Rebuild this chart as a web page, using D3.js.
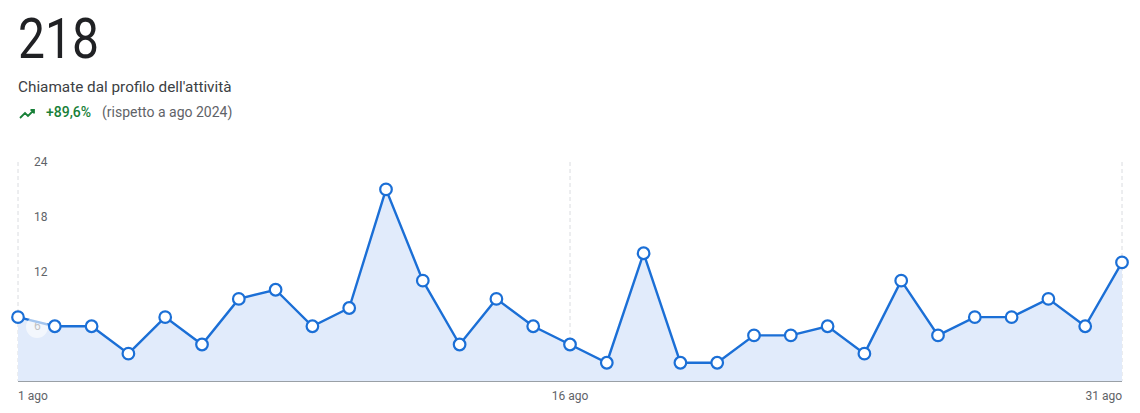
<!DOCTYPE html>
<html><head><meta charset="utf-8">
<script src="https://cdn.jsdelivr.net/npm/d3@7"></script>
<style>body{margin:0;background:#fff;font-family:Roboto,Arial,sans-serif;}</style>
</head><body><svg id="c" width="1140" height="413"></svg>
<script>
const days = d3.range(1, 32);
const values = [7,6,6,3,7,4,9,10,6,8,21,11,4,9,6,4,2,14,2,2,5,5,6,3,11,5,7,7,9,6,13];
const yTicks = [6,12,18,24];
const xTickDays = [1,16,31];
const xTickLabels = ["1 ago","16 ago","31 ago"];
const total = "218";
const title = "Chiamate dal profilo dell'attività";
const change = "+89,6%";
const comparison = "(rispetto a ago 2024)";

const svg = d3.select("#c");
const x = d3.scaleLinear().domain([1,31]).range([18,1122]);
const y = d3.scaleLinear().domain([0,24]).range([381,162]);

svg.append("text").attr("x",18).attr("y",58).attr("font-size",56).attr("fill","#202124")
  .attr("textLength",81).attr("lengthAdjust","spacingAndGlyphs").text(total);
svg.append("text").attr("x",18).attr("y",92).attr("font-size",15.3).attr("fill","#3c4043").text(title);
svg.append("path").attr("d","M20,118 l5,-5 l3,3 l6,-6 m-3.5,0 h3.5 v3.5").attr("fill","none").attr("stroke","#188038").attr("stroke-width",1.8);
svg.append("text").attr("x",46).attr("y",117).attr("font-size",14).attr("font-weight",500).attr("fill","#188038").text(change);
svg.append("text").attr("x",102).attr("y",117).attr("font-size",14).attr("fill","#5f6368").text(comparison);

// vertical dashed gridlines
svg.selectAll("line.v").data(xTickDays).enter().append("line")
  .attr("x1",d=>x(d)).attr("x2",d=>x(d)).attr("y1",y(24)).attr("y2",y(0))
  .attr("stroke","#dadce0").attr("stroke-dasharray","4,3");

// area
svg.append("path").datum(values)
  .attr("d", d3.area().x((d,i)=>x(days[i])).y0(y(0)).y1(d=>y(d)))
  .attr("fill","#e1ebfb");

// baseline
svg.append("line").attr("x1",x(1)).attr("x2",x(31)).attr("y1",y(0)+0.5).attr("y2",y(0)+0.5).attr("stroke","#9aa0a6");

// y tick labels
svg.selectAll("text.yt").data(yTicks).enter().append("text")
  .attr("x",34).attr("y",d=>y(d)+4).attr("font-size",12).attr("fill","#5f6368").text(d=>d);

// x tick labels
svg.selectAll("text.xt").data(xTickDays).enter().append("text")
  .attr("x",d=>x(d))
  .attr("text-anchor",(d,i)=> i===0?"start": i===2?"end":"middle")
  .attr("y",400).attr("font-size",12).attr("fill","#5f6368").text((d,i)=>xTickLabels[i]);

// line
svg.append("path").datum(values)
  .attr("d", d3.line().x((d,i)=>x(days[i])).y(d=>y(d)))
  .attr("fill","none").attr("stroke","#1b6fd6").attr("stroke-width",2.4);

// hover ripple artifact
svg.append("circle").attr("cx",37).attr("cy",327).attr("r",11).attr("fill","#ffffff").attr("opacity",0.6);

// points
svg.selectAll("circle.p").data(values).enter().append("circle")
  .attr("cx",(d,i)=>x(days[i])).attr("cy",d=>y(d)).attr("r",5.8)
  .attr("fill","#fff").attr("stroke","#1b6fd6").attr("stroke-width",2.2);
</script></body></html>
